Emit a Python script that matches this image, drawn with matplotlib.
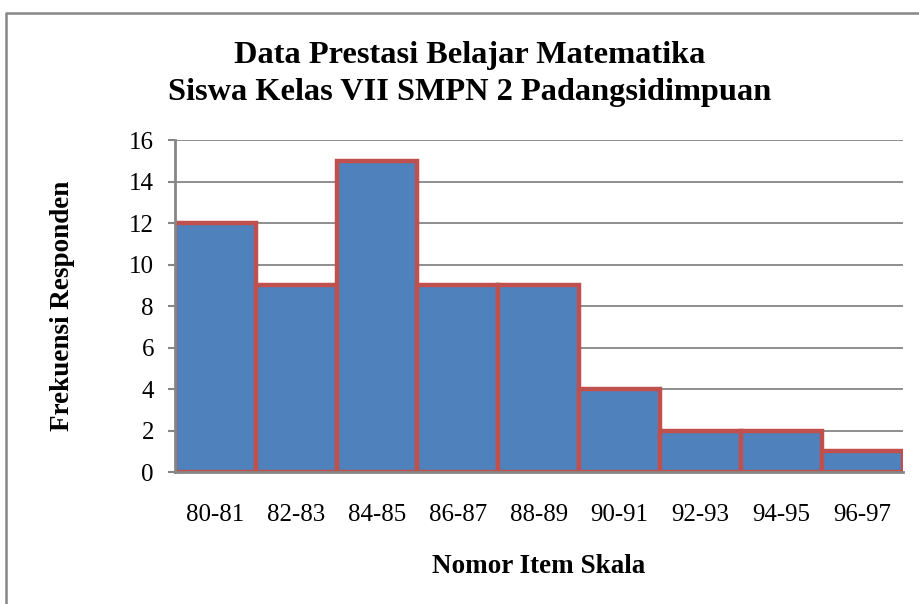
import matplotlib.pyplot as plt
from matplotlib.lines import Line2D

kelas = ['80-81', '82-83', '84-85', '86-87', '88-89', '90-91', '92-93', '94-95', '96-97']
frekuensi = [12, 9, 15, 9, 9, 4, 2, 2, 1]
y_ticks = [0, 2, 4, 6, 8, 10, 12, 14, 16]

plt.rcParams['font.family'] = ['Liberation Serif', 'DejaVu Serif']

fig = plt.figure(figsize=(9.2, 6.04), dpi=100)
ax = fig.add_axes([0.190, 0.2185, 0.7913, 0.5497])

pos = list(range(len(kelas)))
ax.bar(pos, frekuensi, width=1.0, color='#4F81BD', edgecolor='#C0504D',
       linewidth=3.2, zorder=2)

ax.set_xlim(-0.5, len(kelas) - 0.5)
ax.set_ylim(0, 16)
ax.set_yticks(y_ticks)
ax.set_xticks(pos)
ax.set_xticklabels(kelas)

# grid + axes ala Excel
ax.yaxis.grid(True, color='#868686', linewidth=1.3, zorder=0)
ax.set_axisbelow(True)
for s in ['top', 'right']:
    ax.spines[s].set_visible(False)
for s in ['left', 'bottom']:
    ax.spines[s].set_color('#868686')
    ax.spines[s].set_linewidth(2)
    ax.spines[s].set_zorder(3)

ax.tick_params(axis='y', length=5, width=1.5, color='#868686', labelsize=18, pad=10)
ax.tick_params(axis='x', length=0, labelsize=18, pad=23)

ax.set_xlabel('Nomor Item Skala', fontsize=19.5, fontweight='bold', labelpad=20)
ax.set_ylabel('Frekuensi Responden', fontsize=19.5, fontweight='bold', labelpad=39)

# judul dua baris
fig.text(0.511, 1 - 63 / 604, 'Data Prestasi Belajar Matematika',
         ha='center', va='baseline', fontsize=23.3, fontweight='bold')
fig.text(0.511, 1 - 100 / 604, 'Siswa Kelas VII SMPN 2 Padangsidimpuan',
         ha='center', va='baseline', fontsize=23.3, fontweight='bold')

# bingkai luar abu-abu
y_top = 1 - 13 / 604
x_left = 6 / 920
fig.add_artist(Line2D([x_left, x_left, 1], [0, y_top, y_top], color='#878787',
                      linewidth=1.8, transform=fig.transFigure))

fig.savefig('out.png', dpi=100)
